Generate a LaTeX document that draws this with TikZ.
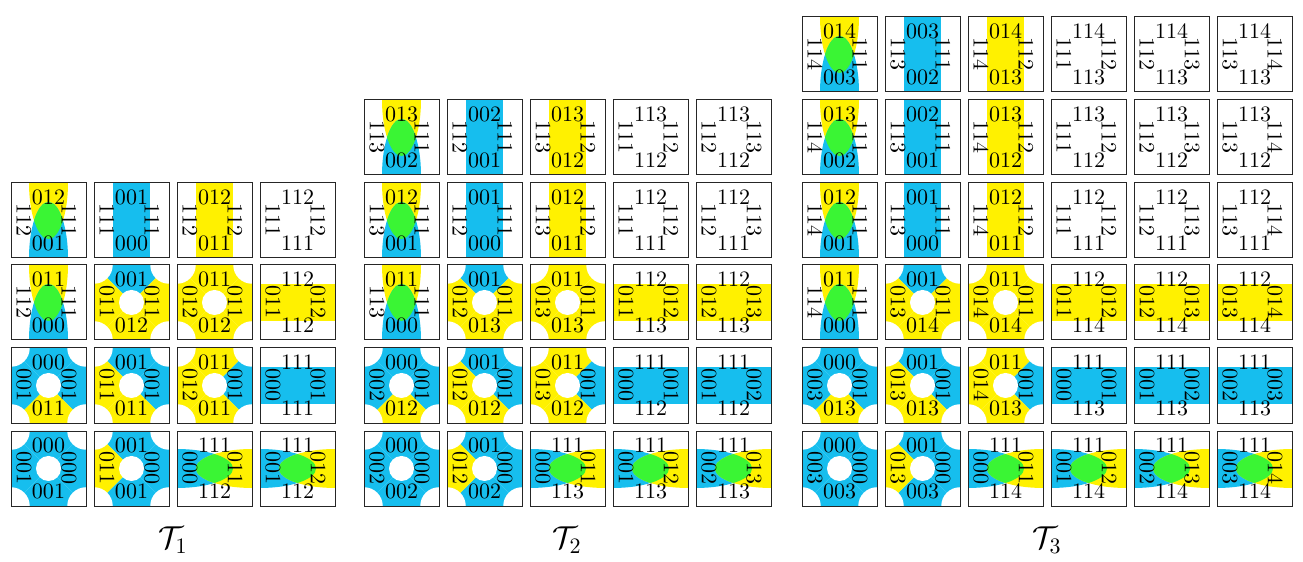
\documentclass[tikz,border=0pt]{standalone}
\usepackage{amsmath}
\usepackage{amssymb}
\usepackage{tikz}
\usepackage{xcolor}

\definecolor{tblue}{RGB}{22,190,238}
\definecolor{tyellow}{RGB}{255,241,0}
\definecolor{tgreen}{RGB}{58,245,52}

\tikzset{
  lab/.style={inner sep=0pt},
  sidelab/.style={inner sep=0pt,rotate=-90},
  tileframe/.style={draw=black!85,line width=0.45pt}
}

% frame and edge labels: x, y, top, right, bottom, left
\newcommand{\wtile}[6]{%
  \begin{scope}[shift={(#1,-#2)}]
  \draw[tileframe] (0,0) rectangle (75,-75);
  \node[lab] (t-#1-#2) at (37.5,-14) {#3};
  \node[sidelab] (r-#1-#2) at (58,-37.5) {#4};
  \node[lab] (b-#1-#2) at (37.5,-60) {#5};
  \node[sidelab] (l-#1-#2) at (13,-37.5) {#6};
  \end{scope}}
% bands
\newcommand{\vband}[3]{\fill[#3] (#1+18.75,-#2) rectangle ++(37.5,-75);}
\newcommand{\hband}[3]{\fill[#3] (#1,-#2-18.75) rectangle ++(75,-37.5);}
% yellow top, blue bottom
\newcommand{\vmix}[2]{%
  \begin{scope}[shift={(#1,-#2)}]
  \clip (0,0) rectangle (75,-75);
  \fill[tyellow] (37.5,0) ellipse [x radius=19.5, y radius=56];
  \fill[tblue] (37.5,-75) ellipse [x radius=19.5, y radius=56];
  \clip (37.5,0) ellipse [x radius=19.5, y radius=56];
  \fill[tgreen] (37.5,-75) ellipse [x radius=19.5, y radius=56];
  \end{scope}}
% blue left, yellow right
\newcommand{\hmix}[2]{%
  \begin{scope}[shift={(#1,-#2)}]
  \clip (0,0) rectangle (75,-75);
  \fill[tblue] (0,-37.5) ellipse [x radius=56, y radius=19.5];
  \fill[tyellow] (75,-37.5) ellipse [x radius=56, y radius=19.5];
  \clip (0,-37.5) ellipse [x radius=56, y radius=19.5];
  \fill[tgreen] (75,-37.5) ellipse [x radius=56, y radius=19.5];
  \end{scope}}
% cross: x, y, top, right, bottom, left colours
\newcommand{\xtile}[6]{%
  \begin{scope}[shift={(#1,-#2)}]
  \clip (0,0) rectangle (75,-75);
  \fill[#3] (0,0) -- (75,0) -- (37.5,-37.5) -- cycle;
  \fill[#4] (75,0) -- (75,-75) -- (37.5,-37.5) -- cycle;
  \fill[#5] (75,-75) -- (0,-75) -- (37.5,-37.5) -- cycle;
  \fill[#6] (0,-75) -- (0,0) -- (37.5,-37.5) -- cycle;
  \fill[white] (37.5,-37.5) circle (12.5) (0,0) circle (18.75)
    (75,0) circle (18.75) (75,-75) circle (18.75) (0,-75) circle (18.75);
  \end{scope}}

\begin{document}
\begin{tikzpicture}[x=0.4545pt,y=0.4545pt]
\useasboundingbox (0,0) rectangle (1303,-562);
% T1
\vmix{11}{183}
\wtile{11}{183}{012}{111}{001}{112}
\vband{94}{183}{tblue}
\wtile{94}{183}{001}{111}{000}{111}
\vband{177}{183}{tyellow}
\wtile{177}{183}{012}{112}{011}{112}
\wtile{260}{183}{112}{112}{111}{111}
\vmix{11}{265}
\wtile{11}{265}{011}{111}{000}{112}
\xtile{94}{265}{tblue}{tyellow}{tyellow}{tyellow}
\wtile{94}{265}{001}{011}{012}{011}
\xtile{177}{265}{tyellow}{tyellow}{tyellow}{tyellow}
\wtile{177}{265}{011}{011}{012}{012}
\hband{260}{265}{tyellow}
\wtile{260}{265}{112}{012}{112}{011}
\xtile{11}{348}{tblue}{tblue}{tyellow}{tblue}
\wtile{11}{348}{000}{001}{011}{001}
\xtile{94}{348}{tblue}{tblue}{tyellow}{tyellow}
\wtile{94}{348}{001}{001}{011}{011}
\xtile{177}{348}{tyellow}{tblue}{tyellow}{tyellow}
\wtile{177}{348}{011}{001}{011}{012}
\hband{260}{348}{tblue}
\wtile{260}{348}{111}{001}{111}{000}
\xtile{11}{431}{tblue}{tblue}{tblue}{tblue}
\wtile{11}{431}{000}{000}{001}{001}
\xtile{94}{431}{tblue}{tblue}{tblue}{tyellow}
\wtile{94}{431}{001}{000}{001}{011}
\hmix{177}{431}
\wtile{177}{431}{111}{011}{112}{000}
\hmix{260}{431}
\wtile{260}{431}{111}{012}{112}{001}
\node[font=\Large] (T1) at (173,-540) {$\mathcal{T}_1$};
% T2
\vmix{364}{100}
\wtile{364}{100}{013}{111}{002}{113}
\vband{447}{100}{tblue}
\wtile{447}{100}{002}{111}{001}{112}
\vband{530}{100}{tyellow}
\wtile{530}{100}{013}{112}{012}{113}
\wtile{613}{100}{113}{112}{112}{111}
\wtile{696}{100}{113}{113}{112}{112}
\vmix{364}{183}
\wtile{364}{183}{012}{111}{001}{113}
\vband{447}{183}{tblue}
\wtile{447}{183}{001}{111}{000}{112}
\vband{530}{183}{tyellow}
\wtile{530}{183}{012}{112}{011}{113}
\wtile{613}{183}{112}{112}{111}{111}
\wtile{696}{183}{112}{113}{111}{112}
\vmix{364}{265}
\wtile{364}{265}{011}{111}{000}{113}
\xtile{447}{265}{tblue}{tyellow}{tyellow}{tyellow}
\wtile{447}{265}{001}{011}{013}{012}
\xtile{530}{265}{tyellow}{tyellow}{tyellow}{tyellow}
\wtile{530}{265}{011}{011}{013}{013}
\hband{613}{265}{tyellow}
\wtile{613}{265}{112}{012}{113}{011}
\hband{696}{265}{tyellow}
\wtile{696}{265}{112}{013}{113}{012}
\xtile{364}{348}{tblue}{tblue}{tyellow}{tblue}
\wtile{364}{348}{000}{001}{012}{002}
\xtile{447}{348}{tblue}{tblue}{tyellow}{tyellow}
\wtile{447}{348}{001}{001}{012}{012}
\xtile{530}{348}{tyellow}{tblue}{tyellow}{tyellow}
\wtile{530}{348}{011}{001}{012}{013}
\hband{613}{348}{tblue}
\wtile{613}{348}{111}{001}{112}{000}
\hband{696}{348}{tblue}
\wtile{696}{348}{111}{002}{112}{001}
\xtile{364}{431}{tblue}{tblue}{tblue}{tblue}
\wtile{364}{431}{000}{000}{002}{002}
\xtile{447}{431}{tblue}{tblue}{tblue}{tyellow}
\wtile{447}{431}{001}{000}{002}{012}
\hmix{530}{431}
\wtile{530}{431}{111}{011}{113}{000}
\hmix{613}{431}
\wtile{613}{431}{111}{012}{113}{001}
\hmix{696}{431}
\wtile{696}{431}{111}{013}{113}{002}
\node[font=\Large] (T2) at (567,-540) {$\mathcal{T}_2$};
% T3
\vmix{802}{17}
\wtile{802}{17}{014}{111}{003}{114}
\vband{885}{17}{tblue}
\wtile{885}{17}{003}{111}{002}{113}
\vband{968}{17}{tyellow}
\wtile{968}{17}{014}{112}{013}{114}
\wtile{1051}{17}{114}{112}{113}{111}
\wtile{1134}{17}{114}{113}{113}{112}
\wtile{1217}{17}{114}{114}{113}{113}
\vmix{802}{100}
\wtile{802}{100}{013}{111}{002}{114}
\vband{885}{100}{tblue}
\wtile{885}{100}{002}{111}{001}{113}
\vband{968}{100}{tyellow}
\wtile{968}{100}{013}{112}{012}{114}
\wtile{1051}{100}{113}{112}{112}{111}
\wtile{1134}{100}{113}{113}{112}{112}
\wtile{1217}{100}{113}{114}{112}{113}
\vmix{802}{183}
\wtile{802}{183}{012}{111}{001}{114}
\vband{885}{183}{tblue}
\wtile{885}{183}{001}{111}{000}{113}
\vband{968}{183}{tyellow}
\wtile{968}{183}{012}{112}{011}{114}
\wtile{1051}{183}{112}{112}{111}{111}
\wtile{1134}{183}{112}{113}{111}{112}
\wtile{1217}{183}{112}{114}{111}{113}
\vmix{802}{265}
\wtile{802}{265}{011}{111}{000}{114}
\xtile{885}{265}{tblue}{tyellow}{tyellow}{tyellow}
\wtile{885}{265}{001}{011}{014}{013}
\xtile{968}{265}{tyellow}{tyellow}{tyellow}{tyellow}
\wtile{968}{265}{011}{011}{014}{014}
\hband{1051}{265}{tyellow}
\wtile{1051}{265}{112}{012}{114}{011}
\hband{1134}{265}{tyellow}
\wtile{1134}{265}{112}{013}{114}{012}
\hband{1217}{265}{tyellow}
\wtile{1217}{265}{112}{014}{114}{013}
\xtile{802}{348}{tblue}{tblue}{tyellow}{tblue}
\wtile{802}{348}{000}{001}{013}{003}
\xtile{885}{348}{tblue}{tblue}{tyellow}{tyellow}
\wtile{885}{348}{001}{001}{013}{013}
\xtile{968}{348}{tyellow}{tblue}{tyellow}{tyellow}
\wtile{968}{348}{011}{001}{013}{014}
\hband{1051}{348}{tblue}
\wtile{1051}{348}{111}{001}{113}{000}
\hband{1134}{348}{tblue}
\wtile{1134}{348}{111}{002}{113}{001}
\hband{1217}{348}{tblue}
\wtile{1217}{348}{111}{003}{113}{002}
\xtile{802}{431}{tblue}{tblue}{tblue}{tblue}
\wtile{802}{431}{000}{000}{003}{003}
\xtile{885}{431}{tblue}{tblue}{tblue}{tyellow}
\wtile{885}{431}{001}{000}{003}{013}
\hmix{968}{431}
\wtile{968}{431}{111}{011}{114}{000}
\hmix{1051}{431}
\wtile{1051}{431}{111}{012}{114}{001}
\hmix{1134}{431}
\wtile{1134}{431}{111}{013}{114}{002}
\hmix{1217}{431}
\wtile{1217}{431}{111}{014}{114}{003}
\node[font=\Large] (T3) at (1047,-540) {$\mathcal{T}_3$};
\end{tikzpicture}
\end{document}
